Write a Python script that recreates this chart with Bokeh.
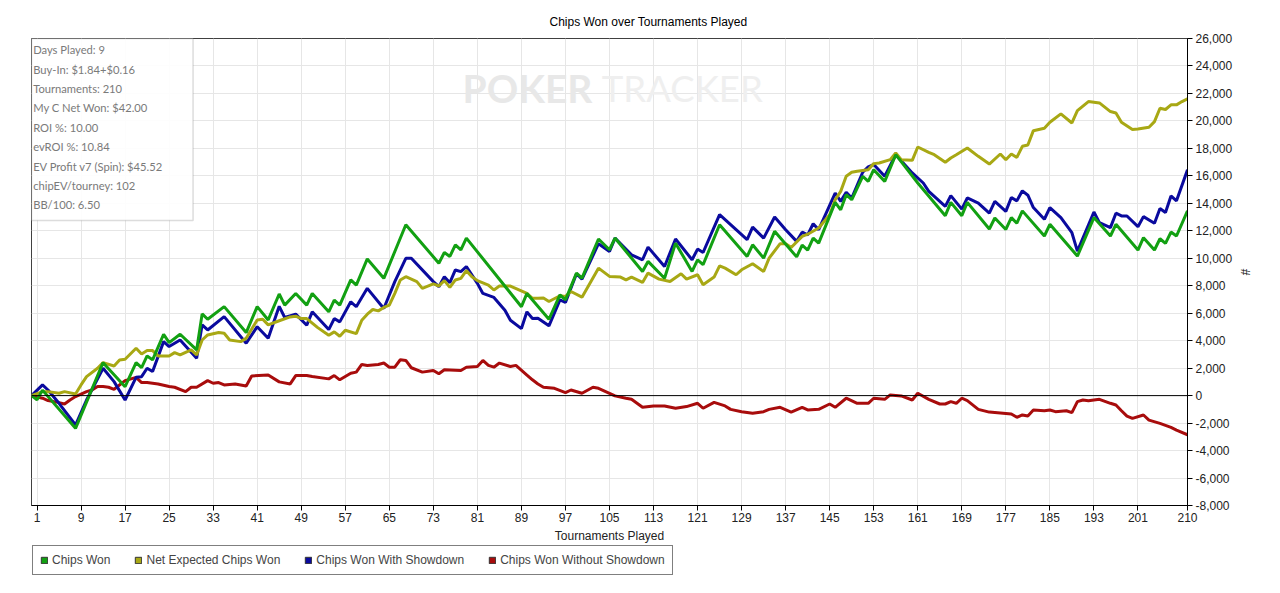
from bokeh.plotting import figure
from bokeh.layouts import column
from bokeh.models import (Range1d, FixedTicker, NumeralTickFormatter, Span, Legend, LegendItem,
                          BoxAnnotation, Label)
from bokeh.embed import file_html
from bokeh.resources import INLINE

# ---------------- data ----------------
x_ticks = [1, 9, 17, 25, 33, 41, 49, 57, 65, 73, 81, 89, 97, 105, 113, 121, 129, 137, 145,
           153, 161, 169, 177, 185, 193, 201, 210]
y_ticks = list(range(-8000, 26001, 2000))

series_names = ["Chips Won", "Net Expected Chips Won", "Chips Won With Showdown",
                "Chips Won Without Showdown"]
series_colors = ["#12a012", "#a8a814", "#0a0a9e", "#a80c0c"]

chips_won_t = [0,1,2,8,13,17,19,20,21,22,24,25,27,30,31,32,35,39,41,43,45,46,48,50,51,54,55,56,58,59,
               61,64,68,74,75,76,77,78,79,89,90,94,96,97,99,100,103,105,106,111,112,115,117,120,121,
               122,125,130,131,133,135,139,140,141,142,143,146,147,148,149,151,152,153,155,157,161,
               166,167,169,170,174,175,177,178,179,180,184,185,190,193,196,197,201,202,204,205,206,
               207,208,210]
chips_won = [0,-300,400,-2380,2400,650,2400,2040,2890,2600,4470,3860,4470,3330,5950,5560,6480,4590,
             6480,5510,7400,6590,7440,6590,7440,6100,6950,6590,8420,8050,9950,8540,12440,9640,10420,
             10130,10980,10610,11470,6470,7440,5560,7340,6970,8920,8550,11400,10620,11470,9040,9770,
             8550,11100,9040,9890,9530,12440,10130,10980,10010,11960,10100,10950,10600,11470,11100,
             14070,13530,14630,14260,15970,15600,16450,15600,17540,15480,13100,14070,13100,14070,
             12130,12930,12100,12960,12550,13450,11620,12470,10160,12960,11620,12470,10600,11500,
             10600,11420,11080,11910,11620,13450]

net_expected_t = [0,2,3,5,6,8,9,10,12,13,15,16,17,19,20,21,22,23,25,26,27,29,30,31,32,34,35,36,38,39,
                  41,42,43,45,47,48,49,50,52,54,55,56,57,59,60,61,62,63,64,65,66,67,68,70,71,73,74,
                  75,76,77,78,79,80,81,83,84,85,87,90,91,92,93,94,96,97,98,100,103,105,107,108,109,
                  111,112,114,116,118,119,121,122,124,125,126,128,129,131,133,134,136,137,138,140,
                  141,143,145,146,147,148,149,150,152,153,154,156,157,158,160,161,163,164,166,167,
                  168,170,172,174,176,177,178,179,180,181,182,184,185,187,189,190,192,194,196,197,
                  198,200,201,203,204,205,206,207,208,209,210]
net_expected = [0,290,290,170,290,120,780,1380,1990,2400,2160,2600,2650,3450,3030,3280,3280,2890,2890,
                3130,2960,3330,2960,4050,4420,4590,4540,4050,3930,4170,5510,5560,5150,5450,5730,5780,
                5610,5610,4950,4390,4640,4320,4760,4510,5490,5930,6270,6170,6420,6590,7440,8420,8660,
                8300,7810,8130,7980,8370,7880,8420,8540,9100,8660,8370,8050,7690,7980,7980,7440,7080,
                7080,7100,6850,7270,7220,7580,7170,9280,8680,8630,8430,8630,8240,8920,8480,8310,8870,
                8480,8800,8070,8630,9450,9280,8800,9160,9600,9040,10010,11060,11060,10780,11590,11750,
                12200,13170,14260,14870,15970,16260,16330,16450,16890,16940,17180,17670,17180,17130,
                18100,17710,17540,16990,17300,17540,18030,17420,16860,17590,17170,17590,17340,18150,
                18250,19290,19460,19900,20510,19850,20750,21410,21310,20680,20580,19900,19370,19410,
                19540,19950,20920,20830,21170,21170,21410,21610]

with_sd_t = [0,2,3,5,8,10,13,15,17,19,20,21,22,24,25,27,30,31,32,35,39,41,43,45,46,48,50,51,54,55,56,
             58,59,61,64,66,68,69,73,74,75,76,77,78,79,81,82,84,86,87,89,90,91,92,94,96,97,99,100,
             103,105,106,109,111,112,115,117,120,121,122,125,130,131,133,135,137,139,140,141,142,
             143,146,147,148,149,151,152,153,155,157,160,162,163,166,167,169,170,172,174,175,177,
             178,179,180,181,182,184,185,187,189,190,193,194,196,197,198,199,201,202,204,205,206,
             207,208,210]
with_sd = [0,780,410,-560,-2140,-320,1990,1020,-320,1330,1380,1990,1750,3930,3570,4050,2720,5150,4780,
           5750,3810,5020,4170,6500,5690,5930,5120,6100,4810,5610,5370,6830,6470,7810,6340,8300,10000,
           10000,8300,7930,8660,8220,9150,9030,9390,8170,7440,7150,6220,5490,4880,6100,5610,5640,5080,
           6970,6780,8870,8480,11060,10500,11470,10250,9890,10810,9400,11400,9890,10670,10420,13170,
           11350,12270,11470,13000,12080,11230,11900,11700,12510,12080,14750,14140,14800,14390,16260,
           16650,16820,15970,17540,16210,15480,14870,13780,14560,13580,14390,14020,13290,14140,13410,
           14420,14180,14910,14590,13690,12840,13690,12960,11860,10520,13370,12590,12230,13280,13080,
           13080,12300,13030,12550,13620,13330,14540,14180,16440]

without_sd_t = [0,2,3,5,6,7,8,10,11,12,13,14,15,17,19,20,21,23,25,26,28,29,30,32,33,34,35,37,39,40,
                43,45,47,48,50,51,54,55,56,57,58,59,60,61,63,64,65,66,67,68,69,71,73,74,75,78,79,81,
                82,83,84,85,87,88,90,91,92,93,95,97,98,100,102,103,105,106,108,109,111,113,115,117,
                119,121,122,124,126,127,129,131,133,134,136,138,140,141,143,145,146,148,150,152,153,
                155,156,158,160,161,163,165,166,167,168,169,170,172,174,176,178,179,180,181,182,184,
                185,186,188,189,190,191,192,194,196,197,198,199,200,202,203,205,207,208,210]
without_sd = [0,-190,-360,-510,-610,-320,-70,290,410,660,660,610,460,1090,1330,950,950,850,660,610,290,
              610,610,1090,900,950,780,850,700,1430,1500,1000,850,1460,1460,1390,1220,1460,1150,1390,
              1630,1710,2270,2200,2270,2370,2070,2070,2610,2560,2030,1710,1830,1590,1880,1830,2070,
              2120,2560,2200,2070,2370,2120,2200,1500,1150,850,610,530,220,410,170,610,530,170,-20,
              -190,-270,-850,-750,-750,-920,-800,-560,-920,-490,-750,-1000,-1170,-1290,-1170,-1000,
              -850,-1200,-850,-1040,-1000,-610,-850,-190,-560,-560,-190,-270,50,-20,-320,170,-270,
              -610,-610,-440,-560,-190,-360,-1000,-1200,-1270,-1340,-1580,-1410,-1490,-1050,-1100,
              -1050,-1170,-1100,-1240,-440,-320,-370,-270,-560,-680,-1100,-1490,-1660,-1410,-1780,
              -2020,-2310,-2510,-2850]

stats_lines = ["Days Played: 9", "Buy-In: $1.84+$0.16", "Tournaments: 210", "My C Net Won: $42.00",
               "ROI %: 10.00", "evROI %: 10.84", "EV Profit v7 (Spin): $45.52",
               "chipEV/tourney: 102", "BB/100: 6.50"]

FONT = "Liberation Sans"
NAN = float("nan")

# ---------------- main chart ----------------
p = figure(frame_width=1156, frame_height=467, x_range=Range1d(0, 210), y_range=Range1d(-8000, 26000),
           y_axis_location="right", output_backend="svg", toolbar_location=None,
           min_border_left=31, min_border_right=93, min_border_top=38, min_border_bottom=37,
           title="Chips Won over Tournaments Played")
p.background_fill_color = "white"
p.border_fill_color = "white"
p.outline_line_color = "#404040"
p.outline_line_width = 1

p.title.align = "left"
p.title.offset = 518
p.title.standoff = 20
p.title.text_font = FONT
p.title.text_font_size = "12px"
p.title.text_font_style = "normal"
p.title.text_color = "black"

xa = p.xaxis[0]
xa.ticker = FixedTicker(ticks=x_ticks)
xa.axis_label = "Tournaments Played"
ya = p.yaxis[0]
ya.ticker = FixedTicker(ticks=y_ticks)
ya.formatter = NumeralTickFormatter(format="0,0")
ya.axis_label = "#"
for ax in (xa, ya):
    ax.axis_line_color = "black"
    ax.major_tick_line_color = "black"
    ax.major_tick_out = 5
    ax.major_tick_in = 0
    ax.minor_tick_line_color = None
    ax.major_label_text_font = FONT
    ax.major_label_text_font_size = "12px"
    ax.major_label_text_color = "#222222"
    ax.axis_label_text_font = FONT
    ax.axis_label_text_font_size = "12px"
    ax.axis_label_text_font_style = "normal"
    ax.axis_label_text_color = "#222222"
xa.major_label_standoff = 2
xa.axis_label_standoff = 4
ya.major_label_standoff = 3
ya.axis_label_standoff = 3

p.xgrid.ticker = FixedTicker(ticks=x_ticks)
p.ygrid.ticker = FixedTicker(ticks=y_ticks)
for g in (p.xgrid[0], p.ygrid[0]):
    g.grid_line_color = "#e6e6e6"
    g.grid_line_width = 1

# watermark
p.add_layout(Label(x=78.3, y=22360, text="POKER", text_font="Lato", text_font_style="bold",
                   text_font_size="39px", text_color="#e8e8e8", text_baseline="middle",
                   level="underlay"))
p.add_layout(Label(x=103.6, y=22360, text="TRACKER", text_font="Lato",
                   text_font_size="36.5px", text_color="#efefef", text_baseline="middle",
                   level="underlay"))

p.add_layout(Span(location=0, dimension="width", line_color="black", line_width=1))

# lines
data = [(chips_won_t, chips_won), (net_expected_t, net_expected), (with_sd_t, with_sd),
        (without_sd_t, without_sd)]
draw_order = [3, 2, 1, 0]
for i in draw_order:
    t, v = data[i]
    p.line(t, v, line_color=series_colors[i], line_width=3)

# stats box
p.add_layout(BoxAnnotation(left=0, right=29.35, top=26000, bottom=12750, fill_color="white",
                           fill_alpha=0.9, line_color="#8a8a8a", line_width=1.5))
stat_y = [25200, 23740, 22360, 20980, 19520, 18140, 16690, 15300, 13920]
for s, yv in zip(stats_lines, stat_y):
    p.add_layout(Label(x=0.3, y=yv, text=s, text_font="Lato", text_font_size="11.2px",
                       text_color="#7a7a7a", text_baseline="middle"))

# ---------------- legend strip ----------------
lg = figure(width=1280, height=51, x_range=Range1d(0, 1), y_range=Range1d(0, 1),
            x_axis_location=None, y_axis_location=None, output_backend="svg",
            toolbar_location=None, min_border_left=0, min_border_right=0,
            min_border_top=0, min_border_bottom=0)
lg.grid.visible = False
lg.outline_line_color = None
lg.background_fill_color = "white"
lg.border_fill_color = "white"
sw = [lg.quad(left=[NAN], right=[NAN], top=[NAN], bottom=[NAN], fill_color=c, line_color="#333333")
      for c in series_colors]
legend = Legend(items=[LegendItem(label=n, renderers=[r]) for n, r in zip(series_names, sw)],
                orientation="horizontal", location=(1, 21), glyph_width=8, glyph_height=8,
                label_standoff=4, spacing=24, padding=7, margin=0,
                border_line_color="black", border_line_width=1, background_fill_color="white",
                background_fill_alpha=1.0,
                label_text_font=FONT, label_text_font_size="12px", label_height=12)
lg.add_layout(legend)

layout = column(p, lg, spacing=0)
open("out.html", "w").write(file_html(layout, INLINE))
